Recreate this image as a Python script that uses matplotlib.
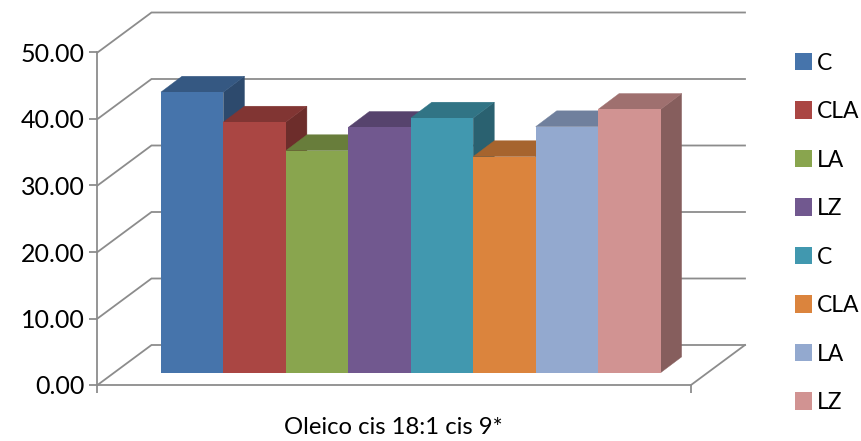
import matplotlib
matplotlib.use("Agg")
import matplotlib.pyplot as plt
from matplotlib.patches import Polygon
from matplotlib.colors import to_rgb

plt.rcParams['font.family'] = ['Lato', 'DejaVu Sans']

categories = ["C", "CLA", "LA", "LZ", "C", "CLA", "LA", "LZ"]
values = [42.2, 37.7, 33.4, 36.9, 38.3, 32.5, 37.0, 39.6]
colors = ["#4674AB", "#AA4643", "#89A54E", "#71588F", "#4198AF", "#DB843D", "#93A9CF", "#D19392"]
y_ticks = [0, 10, 20, 30, 40, 50]
x_label = "Oleico cis 18:1 cis 9*"

W, H = 862, 441
PX_PER_CAT = 62.45
PX_PER_VAL = 6.65
X_ORIGIN = 161.0
Y_ORIGIN = 385.0


def px_x(p):
    return (p - X_ORIGIN) / PX_PER_CAT


def px_y(p):
    return p / PX_PER_VAL


fig = plt.figure(figsize=(W / 100, H / 100), dpi=100, facecolor="white")
ax = fig.add_axes([0, 0, 1, 1])
ax.set_xlim(px_x(0), px_x(W))
ax.set_ylim(-px_y(H - Y_ORIGIN), px_y(Y_ORIGIN))

line_col = "#8C8C8C"
line_w = 1.3

wall_left, wall_right = px_x(97.5), px_x(691)
wall_dx, wall_dy = 54 / PX_PER_CAT, px_y(40)
bar_dx, bar_dy = 21 / PX_PER_CAT, px_y(15.8)
base = px_y(12.3)

# walls and floor
for v in y_ticks:
    ax.plot([wall_left, wall_left + wall_dx, wall_right + wall_dx],
            [v, v + wall_dy, v + wall_dy], color=line_col, lw=line_w, zorder=1,
            solid_joinstyle="miter")
ax.plot([wall_right, wall_right + wall_dx], [0, wall_dy], color=line_col, lw=line_w, zorder=1)


def shade(col, f):
    return tuple(c * f for c in to_rgb(col))


# bars, painted left to right
for i, (v, c, name) in enumerate(zip(values, colors, categories)):
    z = 2 + i
    top = base + v
    ax.add_patch(Polygon([(i + 1, base), (i + 1 + bar_dx, base + bar_dy),
                          (i + 1 + bar_dx, top + bar_dy), (i + 1, top)],
                         closed=True, fc=shade(c, 0.64), ec=shade(c, 0.64), lw=0.3, zorder=z))
    ax.add_patch(Polygon([(i, top), (i + bar_dx, top + bar_dy),
                          (i + 1 + bar_dx, top + bar_dy), (i + 1, top)],
                         closed=True, fc=shade(c, 0.76), ec=shade(c, 0.76), lw=0.3, zorder=z))
    ax.bar(i, v, width=1, bottom=base, align="edge", color=c, label=name, zorder=z + 0.5)

# axes
for s in ("top", "right"):
    ax.spines[s].set_visible(False)
for s in ("left", "bottom"):
    ax.spines[s].set_color(line_col)
    ax.spines[s].set_linewidth(line_w)
ax.spines["left"].set_position(("data", wall_left))
ax.spines["left"].set_bounds(0, y_ticks[-1])
ax.spines["bottom"].set_position(("data", 0))
ax.spines["bottom"].set_bounds(wall_left, wall_right)
ax.set_yticks(y_ticks)
ax.set_yticklabels([f"{v:.2f}" for v in y_ticks], fontsize=18, color="black")
ax.tick_params(axis="y", length=6, width=line_w, color=line_col, pad=3)
ax.set_xticks([wall_left, wall_right])
ax.set_xticklabels(["", ""])
ax.tick_params(axis="x", length=6, width=line_w, color=line_col)
ax.text(px_x(393.5), -px_y(428 - Y_ORIGIN), x_label, ha="center", va="center", fontsize=17.2, color="black")

handles, labels = ax.get_legend_handles_labels()
ax.legend(handles, labels, loc="upper left", bbox_to_anchor=(790 / W, 1 - 48 / H),
          frameon=False, fontsize=16.5, handlelength=0.78, handleheight=0.78,
          handletextpad=0.2, labelspacing=1.2, borderpad=0.2, borderaxespad=0)

fig.savefig("out.png", dpi=100)
